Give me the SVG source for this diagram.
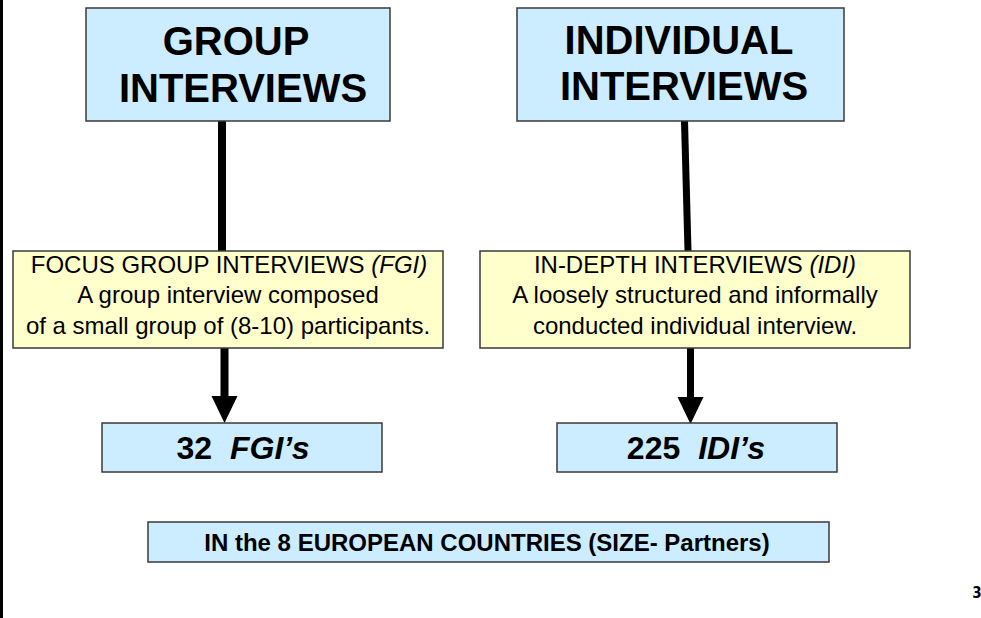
<svg xmlns="http://www.w3.org/2000/svg" width="981" height="618" viewBox="0 0 981 618">
  <style>
    .blue { fill: #CCECFF; stroke: #3a3a3a; stroke-width: 1.5; }
    .yellow { fill: #FFFFCC; stroke: #3a3a3a; stroke-width: 1.5; }
    .title { font-family: "Liberation Sans", Arial, sans-serif; font-weight: bold; font-size: 40px; fill: #000; text-anchor: middle; }
    .desc { font-family: "Liberation Sans", Arial, sans-serif; font-size: 24px; fill: #000; text-anchor: middle; }
    .count { font-family: "Liberation Sans", Arial, sans-serif; font-weight: bold; font-size: 32px; fill: #000; text-anchor: middle; }
    .foot { font-family: "Liberation Sans", Arial, sans-serif; font-weight: bold; font-size: 24px; fill: #000; text-anchor: middle; }
    .conn { stroke: #000; fill: none; }
  </style>
  <defs>
    <marker id="arrow" markerUnits="userSpaceOnUse" markerWidth="28" markerHeight="28" viewBox="0 -14 28 28" refX="0" refY="0" orient="auto">
      <path d="M0,-13 L27,0 L0,13 z" fill="#000"/>
    </marker>
  </defs>
  <rect x="0" y="0" width="981" height="618" fill="#fff"/>
  <rect x="0" y="0" width="3" height="618" fill="#000"/>

  <g id="connectors">
    <line class="conn" x1="222" y1="121" x2="222" y2="251" stroke-width="8"/>
    <line class="conn" x1="684.5" y1="121" x2="688" y2="251" stroke-width="7"/>
    <line class="conn" x1="224.5" y1="348" x2="224.5" y2="396" stroke-width="8" marker-end="url(#arrow)"/>
    <line class="conn" x1="690.5" y1="348" x2="690.5" y2="397" stroke-width="7" marker-end="url(#arrow)"/>
  </g>

  <g id="group-interviews">
    <rect class="blue" x="86" y="8" width="304" height="113"/>
    <text class="title" x="236" y="55">GROUP</text>
    <text class="title" x="243" y="102">INTERVIEWS</text>
  </g>

  <g id="individual-interviews">
    <rect class="blue" x="517" y="8" width="327" height="113"/>
    <text class="title" x="679" y="54">INDIVIDUAL</text>
    <text class="title" x="684" y="100">INTERVIEWS</text>
  </g>

  <g id="fgi">
    <rect class="yellow" x="13" y="251" width="430" height="97"/>
    <text class="desc" x="229" y="273">FOCUS GROUP INTERVIEWS <tspan font-style="italic">(FGI)</tspan></text>
    <text class="desc" x="228" y="303">A group interview composed</text>
    <text class="desc" x="228" y="334">of a small group of (8-10) participants.</text>
  </g>

  <g id="idi">
    <rect class="yellow" x="480" y="251" width="430" height="97"/>
    <text class="desc" x="695" y="273">IN-DEPTH INTERVIEWS <tspan font-style="italic">(IDI)</tspan></text>
    <text class="desc" x="695" y="303">A loosely structured and informally</text>
    <text class="desc" x="695" y="334">conducted individual interview.</text>
  </g>

  <g id="fgi-count">
    <rect class="blue" x="102" y="423" width="280" height="49"/>
    <text class="count" x="243" y="459">32 <tspan dx="9" font-style="italic">FGI’s</tspan></text>
  </g>

  <g id="idi-count">
    <rect class="blue" x="557" y="423" width="280" height="49"/>
    <text class="count" x="696" y="459">225 <tspan dx="9" font-style="italic">IDI’s</tspan></text>
  </g>

  <g id="countries">
    <rect class="blue" x="148" y="522" width="681" height="40"/>
    <text class="foot" x="487" y="551">IN the 8 EUROPEAN COUNTRIES (SIZE- Partners)</text>
  </g>

  <text x="977" y="598" font-family="'DejaVu Sans Condensed', 'DejaVu Sans', sans-serif" font-weight="bold" font-size="15" text-anchor="middle" fill="#000">3</text>
</svg>
